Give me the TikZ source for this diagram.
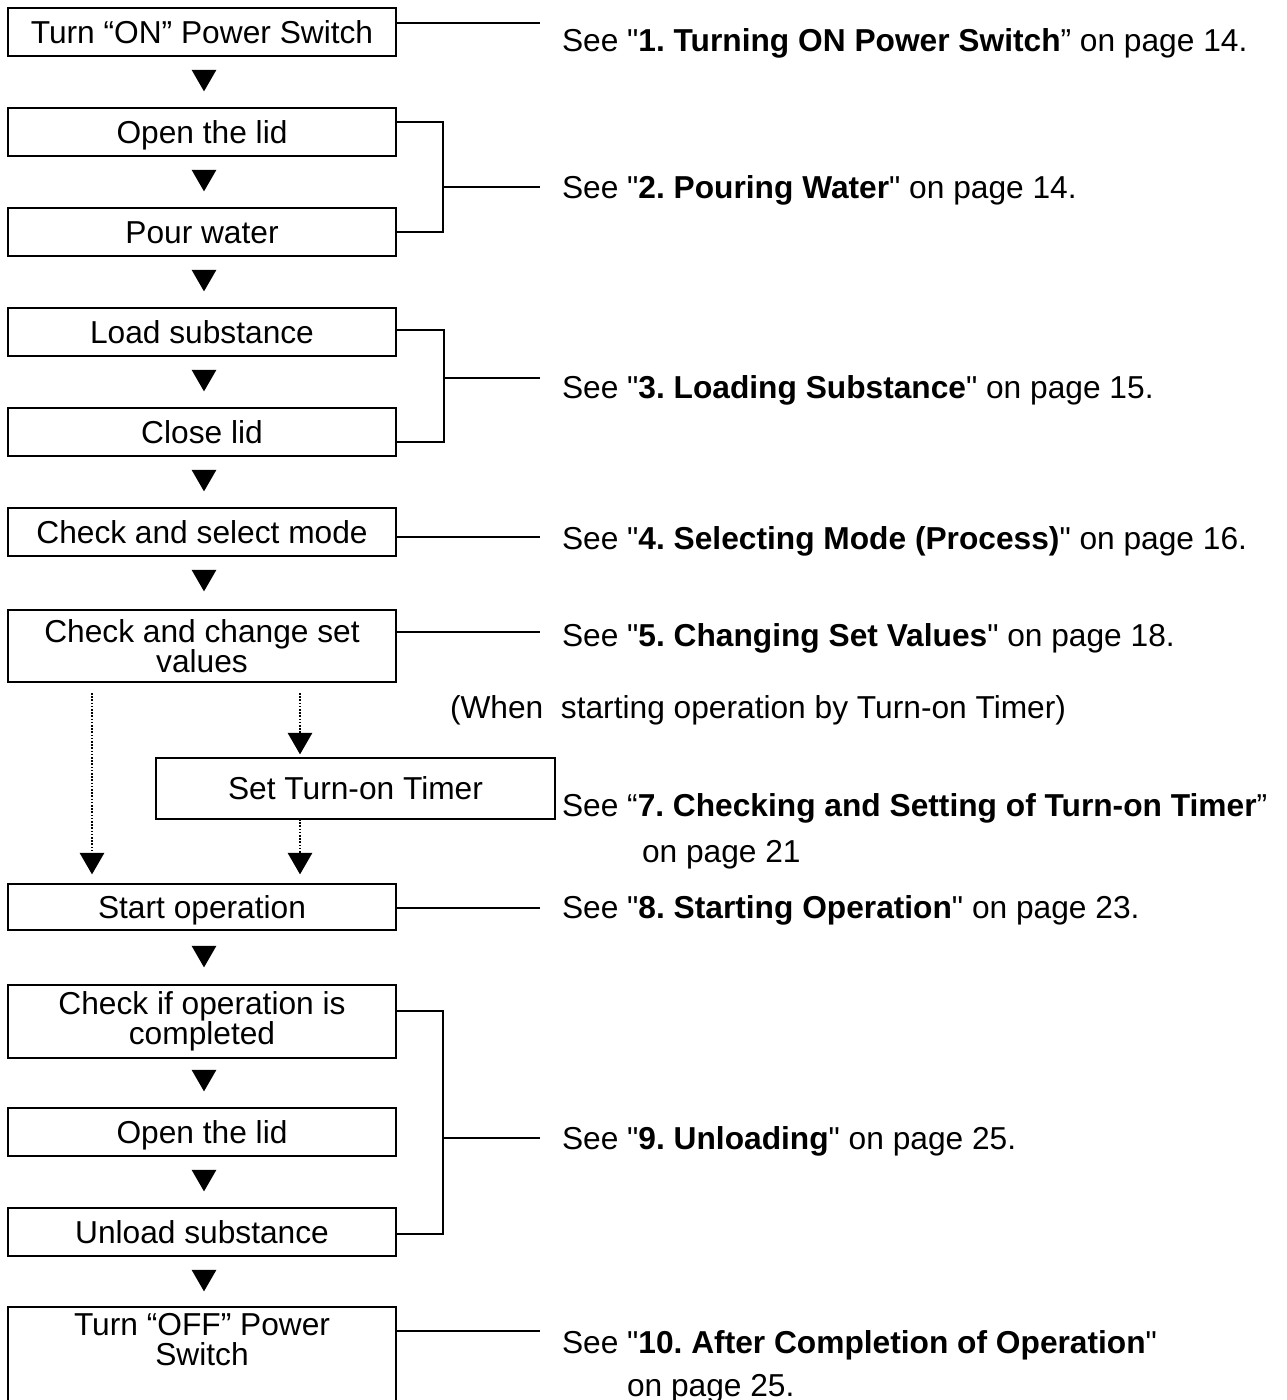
\documentclass[tikz,border=0pt]{standalone}
\usepackage{fontspec}
\setmainfont{Liberation Sans}[Ligatures=TeXOff]
\usetikzlibrary{shapes.geometric}
\frenchspacing
\begin{document}
\begin{tikzpicture}[x=1pt,y=-1pt,
  every node/.style={font=\fontsize{31.7pt}{30.5pt}\selectfont, inner sep=0pt, outer sep=0pt},
  stepbox/.style={draw, line width=2.7pt, minimum width=388pt, align=center},
  onebox/.style={stepbox, minimum height=48pt, text height=22.7pt, text depth=0pt},
  timerbox/.style={draw, line width=1.8pt, minimum width=399pt, minimum height=61pt, text height=22.7pt, text depth=0pt},
  tri/.style={regular polygon, regular polygon sides=3, shape border rotate=180, fill=black, minimum size=28.5pt},
  lbl/.style={anchor=base west},
  link/.style={line width=2pt},
  tolabel/.style={line width=2pt, shorten >=22pt},
  dots/.style={line width=1.6pt, dash pattern=on 1.6pt off 1.6pt}
]
\useasboundingbox (0,0) rectangle (1287,1400);
\clip (0,0) rectangle (1287,1400);

% main boxes
\node[onebox] (b1) at (202,32) {Turn “ON” Power Switch};
\node[onebox] (b2) at (202,132) {Open the lid};
\node[onebox] (b3) at (202,232) {Pour water};
\node[onebox] (b4) at (202,332) {Load substance};
\node[onebox] (b5) at (202,432) {Close lid};
\node[onebox] (b6) at (202,532) {Check and select mode};
\node[stepbox, minimum height=72pt] (b7) at (202,646) {Check and change set\\values};
\node[timerbox] (tm) at (355.5,788.5) {Set Turn-on Timer};
\node[stepbox, minimum height=46pt, text height=22.7pt, text depth=0pt] (b8) at (202,907) {Start operation};
\node[stepbox, minimum height=73pt] (b9) at (202,1021.5) {Check if operation is\\completed};
\node[onebox] (b10) at (202,1132) {Open the lid};
\node[onebox] (b11) at (202,1232) {Unload substance};
\node[stepbox, minimum height=120pt] (b12) at (202,1367) {};
\node[anchor=north, align=center] (b12t) at (202,1313) {Turn “OFF” Power\\Switch};

% arrow triangles
\node[tri] (t1) at (204,77.1) {};
\node[tri] (t2) at (204,177.1) {};
\node[tri] (t3) at (204,277.1) {};
\node[tri] (t4) at (204,377.1) {};
\node[tri] (t5) at (204,477.1) {};
\node[tri] (t6) at (204,577.1) {};
\node[tri] (t7) at (204,953.1) {};
\node[tri] (t8) at (204,1077.1) {};
\node[tri] (t9) at (204,1177.1) {};
\node[tri] (t10) at (204,1277.1) {};
\node[tri] (tl) at (92,860.1) {};
\node[tri] (tr1) at (300,740.1) {};
\node[tri] (tr2) at (300,860.1) {};

% dotted paths
\draw[dots] ([yshift=-11pt]b7.south -| tl.center) -- (tl.center);
\draw[dots] ([yshift=-11pt]b7.south -| tr1.center) -- (tr1.center);
\draw[dots] (tm.south -| tr2.center) -- (tr2.center);

% labels
\node[lbl] (l1) at (562,51) {See "\textbf{1. Turning ON Power Switch}” on page 14.};
\node[lbl] (l2) at (562,198) {See "\textbf{2. Pouring Water}" on page 14.};
\node[lbl] (l3) at (562,398) {See "\textbf{3. Loading Substance}" on page 15.};
\node[lbl] (l4) at (562,549) {See "\textbf{4. Selecting Mode (Process)}" on page 16.};
\node[lbl] (l5) at (562,646) {See "\textbf{5. Changing Set Values}" on page 18.};
\node[lbl] (lw) at (450,718) {(When\ \ starting operation by Turn-on Timer)};
\node[lbl] (l7) at (562,816) {See “\textbf{7. Checking and Setting of Turn-on Timer}”};
\node[lbl] (l7b) at (642,862) {on page 21};
\node[lbl] (l8) at (562,918) {See "\textbf{8. Starting Operation}" on page 23.};
\node[lbl] (l9) at (562,1149) {See "\textbf{9. Unloading}" on page 25.};
\node[lbl] (l10) at (562,1353) {See "\textbf{10. After Completion of Operation}"};
\node[lbl] (l10b) at (627,1396) {on page 25.};

% single connectors
\draw[tolabel] (b1.east |- 0,23) -- (l1.west |- 0,23);
\draw[tolabel] (b6.east |- 0,537) -- (l4.west |- 0,537);
\draw[tolabel] (b7.east |- 0,632) -- (l5.west |- 0,632);
\draw[tolabel] (b8.east |- 0,908) -- (l8.west |- 0,908);
\draw[tolabel] (b12.east |- 0,1331) -- (l10.west |- 0,1331);

% brackets
\coordinate (j2) at (443,187);
\draw[link] (b2.east |- 0,122) -| (j2 |- 0,232) -- (b3.east |- 0,232);
\draw[tolabel] (j2) -- (l2.west |- j2);
\coordinate (j3) at (444,378);
\draw[link] (b4.east |- 0,330) -| (j3 |- 0,442) -- (b5.east |- 0,442);
\draw[tolabel] (j3) -- (l3.west |- j3);
\coordinate (j9) at (443,1138);
\draw[link] (b9.east |- 0,1011) -| (j9 |- 0,1234) -- (b11.east |- 0,1234);
\draw[tolabel] (j9) -- (l9.west |- j9);
\end{tikzpicture}
\end{document}
